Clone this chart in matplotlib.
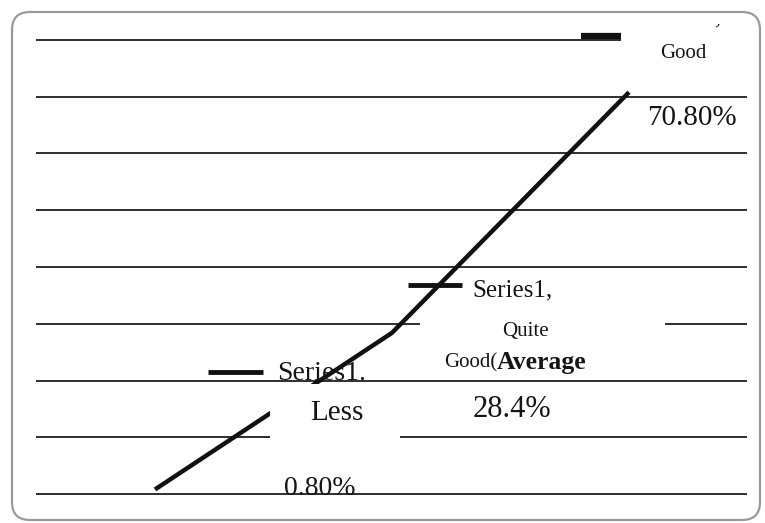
import matplotlib
matplotlib.use('Agg')
import matplotlib.pyplot as plt
from matplotlib.patches import Rectangle, FancyBboxPatch
from matplotlib.lines import Line2D
from matplotlib.transforms import IdentityTransform

# ---- data ----
categories = ['Less', 'Quite Good(Average', 'Good']
values = [0.8, 28.4, 70.8]
value_labels = ['0.80%', '28.4%', '70.80%']
series_name = 'Series1'
grid_values = [0, 10, 20, 30, 40, 50, 60, 70, 80]

W, H = 765, 523
plt.rcParams['font.family'] = ['Liberation Serif', 'DejaVu Serif']
fig = plt.figure(figsize=(W / 100, H / 100), dpi=100)
fig.patch.set_facecolor('white')
ax = fig.add_axes([0, 0, 1, 1])
ax.set_xlim(-155 / 237, 610 / 237)
ax.set_ylim(-(H - 494) / 5.675, 494 / 5.675)
ax.axis('off')

x = list(range(len(categories)))

# gridlines
ax.hlines(grid_values, -0.5, len(categories) - 0.5, color='#1e1e1e', lw=1.3, zorder=1)
# series line
ax.plot(x, values, color='#111111', lw=3.2, solid_capstyle='butt', zorder=2)

ID = IdentityTransform()


def px(i, dx, dy):
    """display coords of point i offset dx px right, dy px down"""
    X, Y = ax.transData.transform((x[i], values[i]))
    return X + dx, Y - dy


def white_box(i, dx0, dx1, dy0, dy1, z=3, on_fig=False):
    x0, y0 = px(i, dx0, dy1)
    x1, y1 = px(i, dx1, dy0)
    r = Rectangle((x0, y0), x1 - x0, y1 - y0, transform=ID,
                  facecolor='white', edgecolor='none', zorder=z)
    if on_fig:
        fig.add_artist(r)
    else:
        ax.add_artist(r)


def key(i, dx0, dx1, dy, lw=3.5):
    a = px(i, dx0, dy)
    b = px(i, dx1, dy)
    ax.add_artist(Line2D([a[0], b[0]], [a[1], b[1]], transform=ID,
                         color='#111111', lw=lw, solid_capstyle='butt', zorder=4))


def txt(i, dx, dy, s, size, ha='center', va='center', **kw):
    X, Y = px(i, dx, dy)
    return ax.text(X, Y, s, transform=ID, fontsize=size, ha=ha, va=va,
                   color='#151515', zorder=5, **kw)


# label boxes (white backgrounds)
white_box(0, 115, 245, -105, -23)
white_box(1, 28, 273, -26, 43)
white_box(2, -8, 140, -100, -3)

# label 1
key(0, 53, 108, -117.5)
txt(0, 122, -115.5, series_name + '.', 20, ha='left')
txt(0, 182, -76.5, categories[0], 21)
txt(0, 165, -0.5, value_labels[0], 20)

# label 2
key(1, 16, 70, -47.8)
txt(1, 80, -42.8, series_name + ',', 18, ha='left')
txt(1, 133, -1.8, 'Quite', 15)
txt(1, 105, 30, 'Good(', 15, ha='right')
txt(1, 105, 30, 'Average', 18.5, ha='left', fontweight='bold')
txt(1, 120, 77, value_labels[1], 22)

# label 3 (its first line is cut off by the top of the chart area)
key(2, -48, -8, -56.2, lw=4.5)
txt(2, 53, -69, series_name + ',', 18, va='baseline')
white_box(2, -8, 140, -200, -68, z=5, on_fig=True)
txt(2, 54, -39, categories[2], 15)
txt(2, 63, 26, value_labels[2], 21)

# outer rounded frame
frame = FancyBboxPatch((12, 3), 748, 508, boxstyle='round,pad=0,rounding_size=18',
                       transform=ID, facecolor='none', edgecolor='#9a9a9a', lw=1.6,
                       zorder=10)
fig.add_artist(frame)

fig.savefig('out.png', dpi=100, facecolor='white')
